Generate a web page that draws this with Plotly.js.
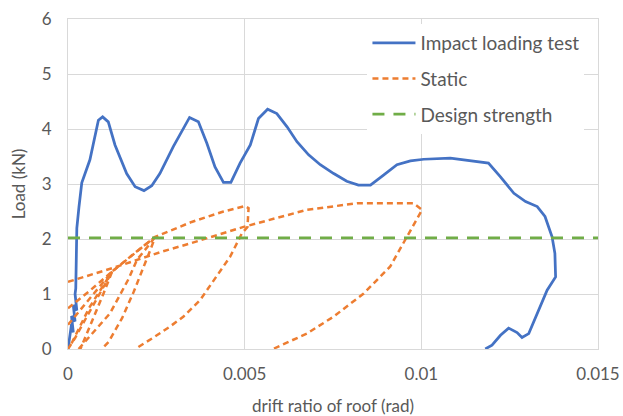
<!DOCTYPE html>
<html>
<head>
<meta charset="utf-8">
<script src="https://cdn.plot.ly/plotly-3.0.1.min.js"></script>
<style>html,body{margin:0;padding:0;background:#fff;}#chart{width:623px;height:416px;}</style>
</head>
<body>
<div id="chart"></div>
<script>
// Impact loading test (blue)
const impactX = [0,0.00005,0.0001,0.00015,0.0001,0.0002,0.00015,0.00025,0.0002,0.00022,0.00025,0.00031,0.00039,0.00062,0.00086,0.00098,0.00114,0.00133,0.00166,0.0019,0.00215,0.00237,0.0026,0.00298,0.00344,0.00369,0.00393,0.00416,0.0044,0.00461,0.00487,0.00516,0.00539,0.00565,0.00591,0.0062,0.00648,0.00681,0.00714,0.00752,0.00789,0.00822,0.00856,0.00893,0.00931,0.00969,0.01007,0.01082,0.0119,0.01224,0.01262,0.01295,0.01328,0.0135,0.0137,0.01378,0.0138,0.01356,0.01337,0.01318,0.01304,0.01285,0.01271,0.01247,0.01224,0.012,0.01181];
const impactY = [0,0.25,0.45,0.3,0.6,0.5,0.8,0.7,1.0,1.1,2.2,2.58,3.02,3.44,4.16,4.22,4.13,3.71,3.19,2.95,2.88,2.97,3.19,3.68,4.21,4.13,3.74,3.31,3.03,3.03,3.38,3.71,4.19,4.36,4.28,4.04,3.77,3.53,3.35,3.19,3.05,2.98,2.98,3.16,3.35,3.42,3.45,3.47,3.38,3.13,2.83,2.68,2.59,2.41,2.04,1.74,1.31,1.07,0.77,0.5,0.28,0.21,0.3,0.38,0.25,0.07,0];

// Static cyclic test (orange), segments separated by null
const staticX = [
  0,0.0002,0.0005,0.0009,0.00125,0.001,0.0007,0.00035, null,
  0,0.0006,0.00125,0.0019,0.00247,0.00233,0.00186,0.00153,0.00115,0.00096, null,
  0,0.0006,0.00125,0.00186,0.00247,0.0035,0.0044,0.00501,0.00511,0.00508,0.00492,0.00459,0.00412,0.00374,0.00327,0.00289,0.0024,0.0019, null,
  0.0003,0.00119,0.00172,0.00195,0.00229,0.00247, null,
  0.0001,0.0006,0.00125, null,
  0,0.00125,0.00266,0.00346,0.00497,0.00676,0.00818,0.00978,0.01002,0.00959,0.00912,0.00837,0.00752,0.00676,0.006,0.0058
];
const staticY = [
  0,0.2,0.55,1.0,1.41,1.0,0.55,0, null,
  0.44,0.9,1.41,1.75,2.04,1.8,1.04,0.56,0.13,0, null,
  0.74,1.05,1.41,1.72,2.04,2.31,2.5,2.6,2.56,2.22,2.1,1.68,1.25,0.89,0.59,0.41,0.2,0, null,
  0,0.65,1.28,1.62,1.89,2.04, null,
  0.1,0.75,1.41, null,
  1.22,1.47,1.77,1.92,2.22,2.53,2.65,2.65,2.53,2.04,1.5,1.01,0.59,0.28,0.07,0
];

// Design strength (green)
const designX = [0, 0.015];
const designY = [2.02, 2.02];

const xTicks = [0, 0.005, 0.01, 0.015];
const xTickText = ['0', '0.005', '0.01', '0.015'];
const yTicks = [0, 1, 2, 3, 4, 5, 6];

const FONT = 'Lato, "Open Sans", sans-serif';

const traces = [
  {x: impactX, y: impactY, mode: 'lines', name: 'Impact loading test', legendgroup: 'a',
   line: {color: '#4472c4', width: 2.75}},
  {x: staticX, y: staticY, mode: 'lines', name: 'Static', legendgroup: 'b', connectgaps: false,
   line: {color: '#ed7d31', width: 2.5, dash: '6px,4px'}},
  {x: designX, y: designY, mode: 'lines', name: 'Design strength', legendgroup: 'c',
   line: {color: '#70ad47', width: 2.75, dash: '12px,9px'}}
];

const layout = {
  width: 623, height: 416,
  margin: {l: 68, r: 25, t: 19, b: 67},
  paper_bgcolor: '#fff', plot_bgcolor: '#fff',
  font: {family: FONT, size: 17, color: '#595959'},
  showlegend: true,
  legend: {x: 0.565, xanchor: 'left', y: 0.985, yanchor: 'top', bgcolor: '#ffffff',
           font: {family: FONT, size: 19, color: '#595959'}, itemwidth: 43,
           traceorder: 'grouped', tracegroupgap: 8},
  xaxis: {range: [0, 0.015], tickvals: xTicks, ticktext: xTickText,
          showgrid: true, gridcolor: '#d9d9d9', gridwidth: 1, zeroline: false,
          showline: true, linecolor: '#d9d9d9', linewidth: 1, mirror: true,
          ticks: '', ticklen: 0, ticklabelstandoff: 10, tickfont: {size: 17, color: '#595959'},
          title: {text: 'drift ratio of roof (rad)', font: {size: 17, color: '#595959'}, standoff: 16}},
  yaxis: {range: [0, 6], tickvals: yTicks,
          showgrid: true, gridcolor: '#d9d9d9', gridwidth: 1, zeroline: false,
          showline: true, linecolor: '#d9d9d9', linewidth: 1, mirror: true,
          ticks: '', ticklabelstandoff: 12, tickfont: {size: 17, color: '#595959'},
          title: {text: 'Load (kN)', font: {size: 17, color: '#595959'}, standoff: 11}}
};

Plotly.newPlot('chart', traces, layout, {displayModeBar: false, staticPlot: true});
</script>
</body>
</html>
